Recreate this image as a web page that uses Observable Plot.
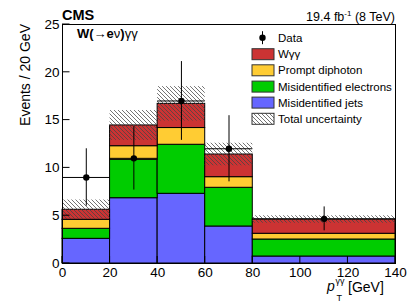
<!DOCTYPE html>
<html>
<head>
<meta charset="utf-8">
<script src="https://cdn.jsdelivr.net/npm/d3@7"></script>
<script src="https://cdn.jsdelivr.net/npm/@observablehq/plot@0.6"></script>
<style>
  html, body { margin: 0; padding: 0; background: #fff; }
  svg { display: block; }
</style>
</head>
<body>
<div id="chart"></div>
<script>
// ---- data ----
const binLo = [0, 20, 40, 60, 80];
const binHi = [20, 40, 60, 80, 140];
const jets      = [2.58, 6.83, 7.29, 3.87, 0.73];   // Misidentified jets
const electrons = [1.05, 4.02, 5.13, 4.05, 1.78];   // Misidentified electrons
const prompt    = [0.94, 1.42, 1.75, 1.11, 0.60];   // Prompt diphoton
const wgg       = [1.05, 2.17, 2.53, 2.37, 1.49];   // Wγγ
const totalUnc  = [1.02, 1.56, 1.80, 1.18, 0.39];
const dataVals  = [9, 11, 17, 12, 4.67];
const dataErr   = [3.0, 3.32, 4.12, 3.46, 1.25];
const xTicks = [0, 20, 40, 60, 80, 100, 120, 140];
const yTicks = [0, 5, 10, 15, 20, 25];
const compNames  = ["Misidentified jets", "Misidentified electrons", "Prompt diphoton", "Wγγ"];
const compColors = ["#6666ff", "#00cc00", "#ffcc33", "#cc3333"];
const compValues = [jets, electrons, prompt, wgg];

// ---- tables ----
const stackRows = compNames.flatMap((name, c) =>
  binLo.map((lo, i) => ({x1: lo, x2: binHi[i], y: compValues[c][i], comp: name})));
const bins = binLo.map((lo, i) => {
  const tot = compValues.reduce((s, v) => s + v[i], 0);
  return {x1: lo, x2: binHi[i], xm: (lo + binHi[i]) / 2, lo: tot - totalUnc[i], hi: tot + totalUnc[i],
          d: dataVals[i], dLo: dataVals[i] - dataErr[i], dHi: dataVals[i] + dataErr[i]};
});

const FONT = "'Liberation Sans', Arial, Helvetica, sans-serif";

const plot = Plot.plot({
  width: 415, height: 303,
  marginTop: 24, marginBottom: 40, marginLeft: 62, marginRight: 20,
  style: {fontFamily: FONT, fontSize: "13.5px", color: "#000", background: "#fff"},
  x: {domain: [0, 140]},
  y: {domain: [0, 25]},
  color: {domain: compNames, range: compColors},
  marks: [
    Plot.rectY(stackRows, {x1: "x1", x2: "x2", y: "y", fill: "comp", stroke: "#000", strokeWidth: 1}),
    Plot.rect(bins, {x1: "x1", x2: "x2", y1: "lo", y2: "hi", fill: "url(#hatch)"}),
    Plot.ruleX(bins, {x: "xm", y1: "dLo", y2: "dHi", stroke: "#000", strokeWidth: 1}),
    Plot.ruleY(bins, {y: "d", x1: "x1", x2: "x2", stroke: "#000", strokeWidth: 1}),
    Plot.dot(bins, {x: "xm", y: "d", r: 3.2, fill: "#000", stroke: null}),
    Plot.frame({stroke: "#000", strokeWidth: 1}),
    Plot.axisX({ticks: xTicks, tickSize: 0, tickPadding: 4, label: null, fontSize: 13.5}),
    Plot.axisY({ticks: yTicks, tickSize: 0, tickPadding: 3, label: null, fontSize: 13.5})
  ]
});

document.getElementById("chart").appendChild(plot);

// ---- decorations ----
const svg = d3.select(plot);
const sx = plot.scale("x"), sy = plot.scale("y");
const X = v => sx.apply(v), Y = v => sy.apply(v);

const defs = svg.insert("defs", ":first-child");
const pat = defs.append("pattern").attr("id", "hatch").attr("patternUnits", "userSpaceOnUse")
  .attr("width", 4).attr("height", 4);
pat.append("path").attr("d", "M-1,-1L5,5M3,-1L5,1M-1,3L1,5")
  .attr("stroke", "#444").attr("stroke-width", 0.75).attr("fill", "none");

// inward ticks
const g = svg.append("g").attr("stroke", "#000").attr("stroke-width", 1);
yTicks.forEach(t => g.append("line").attr("x1", X(0)).attr("x2", X(0) + 7.5).attr("y1", Y(t)).attr("y2", Y(t)));
xTicks.forEach(t => g.append("line").attr("x1", X(t)).attr("x2", X(t)).attr("y1", Y(0)).attr("y2", Y(0) - 7));

const txt = svg.append("g").attr("font-family", FONT).attr("fill", "#000").attr("text-anchor", "start");
txt.append("text").attr("x", X(0)).attr("y", 20).attr("font-size", 14.5).attr("font-weight", "bold").text("CMS");
const lumi = txt.append("text").attr("x", X(140)).attr("y", 20.5).attr("font-size", 12.5).attr("text-anchor", "end");
lumi.append("tspan").text("19.4 fb");
lumi.append("tspan").attr("font-size", 8).attr("dy", -5).text("-1");
lumi.append("tspan").attr("dy", 5).text(" (8 TeV)");

const wl = txt.append("text").attr("x", 77).attr("y", 37.5).attr("font-size", 13);
wl.append("tspan").attr("font-weight", "bold").text("W(→e");
wl.append("tspan").text("ν");
wl.append("tspan").attr("font-weight", "bold").text(")");
wl.append("tspan").text("γγ");

// y label
txt.append("text").attr("transform", `translate(30,${Y(25)}) rotate(-90)`).attr("text-anchor", "end")
  .attr("font-size", 14).text("Events / 20 GeV");
// x label
txt.append("text").attr("x", 327).attr("y", 291).attr("font-size", 14).attr("font-style", "italic").text("p");
txt.append("text").attr("x", 336.5).attr("y", 300.5).attr("font-size", 9).text("T");
txt.append("text").attr("x", 335.5).attr("y", 283.5).attr("font-size", 9).text("γγ");
txt.append("text").attr("x", 348).attr("y", 291.5).attr("font-size", 14).text("[GeV]");

// legend
const leg = svg.append("g").attr("font-family", FONT).attr("font-size", 11.5).attr("text-anchor", "start");
const rowY = [37.7, 54.2, 70.3, 86.6, 102.6, 118.8];
const sw0 = 252, sw1 = 274, tx = 278;
leg.append("line").attr("x1", 262.5).attr("x2", 262.5).attr("y1", rowY[0] - 6.5).attr("y2", rowY[0] + 6.5).attr("stroke", "#000");
leg.append("circle").attr("cx", 262.5).attr("cy", rowY[0]).attr("r", 3.2).attr("fill", "#000");
leg.append("text").attr("x", tx).attr("y", rowY[0] + 4).text("Data");
const legItems = [
  {label: "Wγγ", fill: compColors[3]},
  {label: "Prompt diphoton", fill: compColors[2]},
  {label: "Misidentified electrons", fill: compColors[1]},
  {label: "Misidentified jets", fill: compColors[0]},
  {label: "Total uncertainty", fill: "url(#hatch)"}
];
legItems.forEach((it, k) => {
  const cy = rowY[k + 1];
  leg.append("rect").attr("x", sw0).attr("y", cy - 5.5).attr("width", sw1 - sw0).attr("height", 11)
    .attr("fill", it.fill).attr("stroke", "#333").attr("stroke-width", 1);
  leg.append("text").attr("x", tx).attr("y", cy + 4).text(it.label);
});
</script>
</body>
</html>
